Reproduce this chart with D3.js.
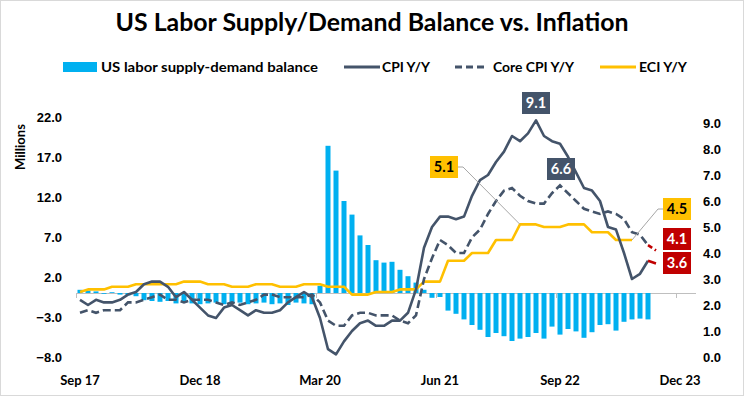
<!DOCTYPE html>
<html>
<head>
<meta charset="utf-8">
<script src="https://cdn.jsdelivr.net/npm/d3@7"></script>
<style>
    body { margin: 0; background: #fff; }
    svg { display: block; font-family: Lato, "Open Sans", sans-serif; font-weight: bold; }
</style>
</head>
<body>
<svg id="chart" width="744" height="396"></svg>
<script>
// Monthly series, index 0 = Sep 2017
const tickLabels = ["Sep 17", "Dec 18", "Mar 20", "Jun 21", "Sep 22", "Dec 23"];
const tickIndex = [0, 15, 30, 45, 60, 75];

// US labor supply-demand balance, millions (Sep 2017 .. Aug 2023)
const balance = [
    0.4, 0.3, 0.2, -0.1,
    0.1, -0.2, -0.3, -0.4, -0.9, -1.0, -1.1, -1.0, -1.3, -1.1, -1.3, -1.4,
    -1.3, -1.2, -1.4, -1.3, -1.2, -1.4, -1.3, -1.2, -1.4, -1.3, -1.5, -1.2,
    -1.3, -1.4, 0.9, 18.4, 15.3, 11.5, 9.8, 7.2, 6.0, 4.1, 3.8, 3.9,
    2.9, 2.1, 1.3, 0.4, -0.6, -0.5, -2.2, -2.6, -3.3, -4.0, -4.6, -5.5,
    -5.0, -5.4, -6.0, -5.7, -5.5, -5.0, -5.7, -4.2, -5.2, -4.5, -4.8, -5.6,
    -4.9, -4.0, -3.9, -4.7, -3.6, -3.3, -3.2, -3.3
];

// CPI Y/Y, % (Sep 2017 .. Sep 2023)
const cpi = [
    2.2, 2.0, 2.2, 2.1,
    2.1, 2.2, 2.4, 2.5, 2.8, 2.9, 2.9, 2.7, 2.3, 2.5, 2.2, 1.9,
    1.6, 1.5, 1.9, 2.0, 1.8, 1.6, 1.8, 1.7, 1.7, 1.8, 2.1, 2.3,
    2.5, 2.3, 1.5, 0.3, 0.1, 0.6, 1.0, 1.3, 1.4, 1.2, 1.2, 1.4,
    1.4, 1.7, 2.6, 4.2, 5.0, 5.4, 5.4, 5.3, 5.4, 6.2, 6.8, 7.0,
    7.5, 7.9, 8.5, 8.3, 8.6, 9.1, 8.5, 8.3, 8.2, 7.7, 7.1, 6.5,
    6.4, 6.0, 5.0, 4.9, 4.0, 3.0, 3.2, 3.7, 3.6
];

// Core CPI Y/Y, %
const coreCpi = [
    1.7, 1.8, 1.7, 1.8,
    1.8, 1.8, 2.1, 2.1, 2.2, 2.3, 2.4, 2.2, 2.2, 2.1, 2.2, 2.2,
    2.2, 2.1, 2.0, 2.1, 2.0, 2.1, 2.2, 2.4, 2.4, 2.3, 2.3, 2.3,
    2.3, 2.4, 2.1, 1.4, 1.2, 1.2, 1.6, 1.7, 1.7, 1.6, 1.6, 1.6,
    1.4, 1.3, 1.6, 3.0, 3.8, 4.5, 4.3, 4.0, 4.0, 4.6, 4.9, 5.5,
    6.0, 6.4, 6.5, 6.2, 6.0, 5.9, 5.9, 6.3, 6.6, 6.3, 6.0, 5.7,
    5.6, 5.5, 5.6, 5.5, 5.3, 4.8, 4.7, 4.3, 4.1
];

// ECI Y/Y, % (quarterly value shown for each month of the quarter, Sep 2017 .. Jun 2023)
const eci = [
    2.5, 2.6, 2.6, 2.6,
    2.7, 2.7, 2.7, 2.8, 2.8, 2.8, 2.8, 2.8, 2.8, 2.9, 2.9, 2.9,
    2.8, 2.8, 2.8, 2.7, 2.7, 2.7, 2.8, 2.8, 2.8, 2.7, 2.7, 2.7,
    2.8, 2.8, 2.8, 2.7, 2.7, 2.7, 2.4, 2.4, 2.4, 2.5, 2.5, 2.5,
    2.6, 2.6, 2.6, 2.9, 2.9, 2.9, 3.7, 3.7, 3.7, 4.0, 4.0, 4.0,
    4.5, 4.5, 4.5, 5.1, 5.1, 5.1, 5.0, 5.0, 5.0, 5.1, 5.1, 5.1,
    4.8, 4.8, 4.8, 4.5, 4.5, 4.5
];

const leftTicks = [-8, -3, 2, 7, 12, 17, 22];
const rightTicks = [0, 1, 2, 3, 4, 5, 6, 7, 8, 9];

const colors = {bar: "#00B0F0", cpi: "#44546A", eci: "#FFC000", red: "#C00000", grid: "#BFBFBF", lead: "#A6A6A6"};

const svg = d3.select("#chart");

const x = d3.scaleLinear().domain([0, 75]).range([80, 680]);
const yL = d3.scaleLinear().domain([-8, 22]).range([357, 117]);
const yR = d3.scaleLinear().domain([0, 9]).range([357, 123]);

// frame
svg.append("rect")
    .attr("x", 0.5).attr("y", 0.5)
    .attr("width", 743).attr("height", 395)
    .attr("fill", "#fff").attr("stroke", "#D9D9D9");

// title
svg.append("text")
    .attr("x", 372).attr("y", 31)
    .attr("text-anchor", "middle")
    .attr("font-size", 24)
    .attr("textLength", 513).attr("lengthAdjust", "spacingAndGlyphs")
    .attr("fill", "#000")
    .text("US Labor Supply/Demand Balance vs. Inflation");

// legend
const legend = svg.append("g").attr("font-size", 13.5).attr("fill", "#000");
legend.append("rect").attr("x", 63).attr("y", 62).attr("width", 34).attr("height", 10).attr("fill", colors.bar);
const legendLines = [
    {x1: 344, x2: 380, color: colors.cpi, dash: null},
    {x1: 455, x2: 487, color: colors.cpi, dash: "7,4"},
    {x1: 600, x2: 636, color: colors.eci, dash: null}
];
legendLines.forEach(l => {
    legend.append("line")
        .attr("x1", l.x1).attr("x2", l.x2).attr("y1", 67).attr("y2", 67)
        .attr("stroke", l.color).attr("stroke-width", 3)
        .attr("stroke-dasharray", l.dash);
});
const legendTexts = [
    {x: 101, w: 217, t: "US labor supply-demand balance"},
    {x: 382, w: 48, t: "CPI Y/Y"},
    {x: 493, w: 81, t: "Core CPI Y/Y"},
    {x: 639, w: 48, t: "ECI Y/Y"}
];
legendTexts.forEach(d => {
    legend.append("text")
        .attr("x", d.x).attr("y", 72)
        .attr("textLength", d.w).attr("lengthAdjust", "spacingAndGlyphs")
        .text(d.t);
});

// left axis
const leftAxis = d3.axisLeft(yL)
    .tickValues(leftTicks)
    .tickFormat(d3.format(".1f"))
    .tickSize(0).tickPadding(0);
svg.append("g")
    .attr("transform", "translate(62,0)")
    .call(leftAxis)
    .call(g => g.select(".domain").remove())
    .call(g => g.selectAll("text").attr("font-size", 13).attr("font-family", null).attr("fill", "#000"));

svg.append("text")
    .attr("transform", "translate(25,147) rotate(-90)")
    .attr("text-anchor", "middle")
    .attr("font-size", 13).attr("fill", "#000")
    .text("Millions");

// right axis
const rightAxis = d3.axisRight(yR)
    .tickValues(rightTicks)
    .tickFormat(d3.format(".1f"))
    .tickSize(0).tickPadding(0);
svg.append("g")
    .attr("transform", "translate(703,0)")
    .call(rightAxis)
    .call(g => g.select(".domain").remove())
    .call(g => g.selectAll("text").attr("font-size", 13).attr("font-family", null).attr("fill", "#000"));

// category axis on the zero line
const xAxis = d3.axisBottom(x)
    .tickValues([-0.5, 14.5, 29.5, 44.5, 59.5, 74.5])
    .tickFormat("")
    .tickSize(5).tickSizeOuter(0);
svg.append("g")
    .attr("transform", `translate(0,${yL(0)})`)
    .call(xAxis)
    .call(g => g.select(".domain").attr("d", `M76,0.5H696`).attr("stroke", colors.grid))
    .call(g => g.selectAll(".tick line").attr("stroke", colors.grid));

svg.append("g")
    .selectAll("text")
    .data(tickIndex)
    .join("text")
    .attr("x", d => x(d))
    .attr("y", 385)
    .attr("text-anchor", "middle")
    .attr("font-size", 13).attr("fill", "#000")
    .text((d, i) => tickLabels[i]);

// bars
const barW = 5;
svg.append("g")
    .selectAll("rect")
    .data(balance)
    .join("rect")
    .attr("x", (d, i) => x(i) - barW / 2)
    .attr("y", d => yL(Math.max(0, d)))
    .attr("width", barW)
    .attr("height", d => Math.abs(yL(d) - yL(0)))
    .attr("fill", colors.bar);

const line = d3.line()
    .x(d => x(d.i))
    .y(d => yR(d.v));
const pts = arr => arr.map((v, i) => ({i, v}));

// ECI
svg.append("path")
    .attr("d", line(pts(eci)))
    .attr("fill", "none").attr("stroke", colors.eci).attr("stroke-width", 2.6)
    .attr("stroke-linejoin", "round");

// Core CPI: last segment red
const corePts = pts(coreCpi);
svg.append("path")
    .attr("d", line(corePts.slice(0, corePts.length - 1)))
    .attr("fill", "none").attr("stroke", colors.cpi).attr("stroke-width", 2.6)
    .attr("stroke-dasharray", "8,4");
svg.append("path")
    .attr("d", line(corePts.slice(corePts.length - 2)))
    .attr("fill", "none").attr("stroke", colors.red).attr("stroke-width", 2.6)
    .attr("stroke-dasharray", "5,3");

// CPI: last segment red
const cpiPts = pts(cpi);
svg.append("path")
    .attr("d", line(cpiPts.slice(0, cpiPts.length - 1)))
    .attr("fill", "none").attr("stroke", colors.cpi).attr("stroke-width", 2.6)
    .attr("stroke-linejoin", "round");
svg.append("path")
    .attr("d", line(cpiPts.slice(cpiPts.length - 2)))
    .attr("fill", "none").attr("stroke", colors.red).attr("stroke-width", 2.6);

// callouts
const eciPeak = 55, cpiPeak = cpi.indexOf(d3.max(cpi)), corePeak = coreCpi.indexOf(d3.max(coreCpi));
const eciLast = eci.length - 1;

svg.append("path")
    .attr("d", `M457,167H463L${x(eciPeak)},${yR(eci[eciPeak])}`)
    .attr("fill", "none").attr("stroke", colors.lead).attr("stroke-width", 1);
svg.append("path")
    .attr("d", `M${x(eciLast)},${yR(eci[eciLast])}L658,209H663`)
    .attr("fill", "none").attr("stroke", colors.lead).attr("stroke-width", 1);

const callouts = [
    {x: 430, y: 156, v: eci[eciPeak], fill: colors.eci, color: "#000"},
    {x: 522, y: 92, v: cpi[cpiPeak], fill: colors.cpi, color: "#fff"},
    {x: 547, y: 158, v: coreCpi[corePeak], fill: colors.cpi, color: "#fff"},
    {x: 663, y: 198, v: eci[eciLast], fill: colors.eci, color: "#000"},
    {x: 663, y: 228, v: coreCpi[coreCpi.length - 1], fill: colors.red, color: "#fff"},
    {x: 663, y: 252, v: cpi[cpi.length - 1], fill: colors.red, color: "#fff"}
];
const cg = svg.append("g")
    .selectAll("g")
    .data(callouts)
    .join("g")
    .attr("transform", d => `translate(${d.x},${d.y})`);
cg.append("rect")
    .attr("width", 28).attr("height", 22)
    .attr("fill", d => d.fill);
cg.append("text")
    .attr("x", 14).attr("y", 16)
    .attr("text-anchor", "middle")
    .attr("font-size", 14.5)
    .attr("fill", d => d.color)
    .text(d => d3.format(".1f")(d.v));
</script>
</body>
</html>
